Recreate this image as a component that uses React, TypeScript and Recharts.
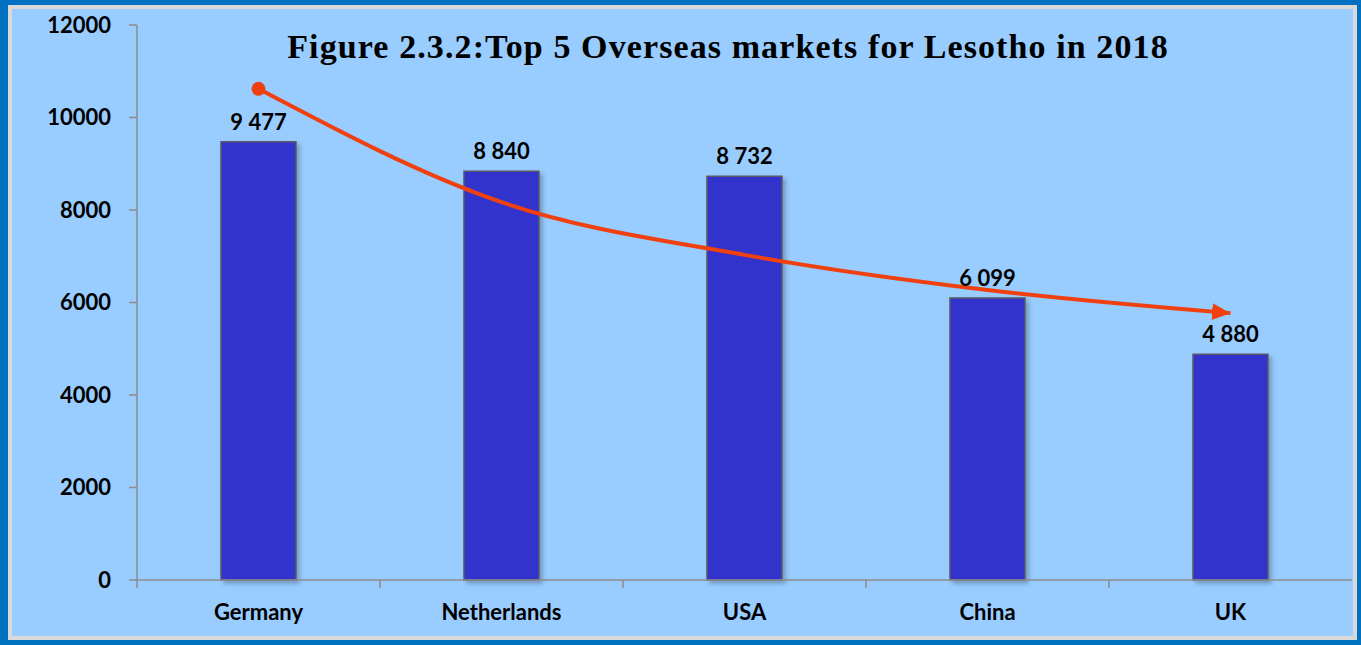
import React from "react";
import {
  ComposedChart,
  Bar,
  Line,
  XAxis,
  YAxis,
  LabelList,
} from "recharts";

const markets = ["Germany", "Netherlands", "USA", "China", "UK"];
const arrivals = [9477, 8840, 8732, 6099, 4880];
// hand-drawn trend arrow in the original
const trendArrow = [10620, 8170, 7030, 6270, 5770];
const yTicks = [0, 2000, 4000, 6000, 8000, 10000, 12000];

const data = markets.map((m, i) => ({
  market: m,
  value: arrivals[i],
  trend: trendArrow[i],
}));

const W = 1361;
const H = 645;
const FONT = "Lato, 'Liberation Sans', Arial, sans-serif";
const RED = "#F0400F";

const fmtSpace = (v: number) => String(v).replace(/\B(?=(\d{3})+(?!\d))/g, " ");

function CategoryTick(props: any) {
  const { x, y, payload } = props;
  const half = payload?.offset ?? 121.5;
  return (
    <g>
      <line x1={x - half} y1={y - 8} x2={x - half} y2={y} stroke="#8c8c8c" strokeWidth={1.5} />
      <text
        x={x}
        y={y + 32}
        textAnchor="middle"
        fontFamily={FONT}
        fontWeight={700}
        fontSize={22}
        fill="#000"
      >
        {payload.value}
      </text>
    </g>
  );
}

function StartDot(props: any) {
  const { cx, cy, index } = props;
  if (index !== 0) return <g key={`d${index}`} />;
  return <circle key="d0" cx={cx} cy={cy} r={7} fill={RED} />;
}

export default function App() {
  return (
    <div
      style={{
        position: "fixed",
        left: 0,
        top: 0,
        width: W,
        height: H,
        background: "#0070C0",
        overflow: "hidden",
      }}
    >
      <div
        style={{
          position: "absolute",
          left: 8,
          top: 5,
          width: 1349,
          height: 635,
          boxSizing: "border-box",
          border: "4px solid #D9D9D9",
          background: "#99CCFF",
        }}
      />
      <div style={{ position: "absolute", left: 0, top: 0 }}>
        <ComposedChart
          width={W}
          height={H}
          data={data}
          margin={{ top: 25, right: 9, left: 0, bottom: 0 }}
          barSize={75}
        >
          <defs>
            <marker
              id="arrowHead"
              viewBox="0 0 11 10"
              refX={11}
              refY={5}
              markerWidth={4.6}
              markerHeight={4.2}
              orient="auto"
              markerUnits="strokeWidth"
            >
              <path d="M0,0 L11,5 L0,10 z" fill={RED} />
            </marker>
            <filter id="barShadow" x="-20%" y="-5%" width="150%" height="115%">
              <feDropShadow dx="3" dy="3" stdDeviation="2" floodColor="#000" floodOpacity="0.25" />
            </filter>
          </defs>
          <XAxis
            dataKey="market"
            axisLine={{ stroke: "#8c8c8c", strokeWidth: 1.5 }}
            tickLine={false}
            tick={<CategoryTick />}
            interval={0}
            height={65}
          />
          <YAxis
            domain={[0, 12000]}
            ticks={yTicks}
            width={137}
            axisLine={{ stroke: "#8c8c8c", strokeWidth: 1.5 }}
            tickLine={{ stroke: "#8c8c8c", strokeWidth: 1.5 }}
            tickSize={8}
            tickMargin={18}
            tick={{ fontFamily: FONT, fontWeight: 700, fontSize: 22, fill: "#000" }}
          />
          <Bar
            dataKey="value"
            fill="#3333CC"
            stroke="#5a5a66"
            strokeWidth={1.5}
            filter="url(#barShadow)"
            isAnimationActive={false}
          >
            <LabelList
              dataKey="value"
              position="top"
              offset={12}
              formatter={(v: any) => fmtSpace(Number(v))}
              style={{ fontFamily: FONT, fontWeight: 700, fontSize: 22, fill: "#000" }}
            />
          </Bar>
          <Line
            dataKey="trend"
            type="monotone"
            stroke={RED}
            strokeWidth={4}
            dot={<StartDot />}
            activeDot={false}
            markerEnd="url(#arrowHead)"
            isAnimationActive={false}
          />
        </ComposedChart>
      </div>
      <div
        style={{
          position: "absolute",
          left: 137,
          width: 1182,
          top: 28,
          textAlign: "center",
          fontFamily: "'Liberation Serif', 'Times New Roman', serif",
          fontWeight: 700,
          fontSize: 34,
          letterSpacing: 1.1,
          color: "#000",
          whiteSpace: "nowrap",
        }}
      >
        Figure 2.3.2:Top 5 Overseas markets for Lesotho in 2018
      </div>
    </div>
  );
}
